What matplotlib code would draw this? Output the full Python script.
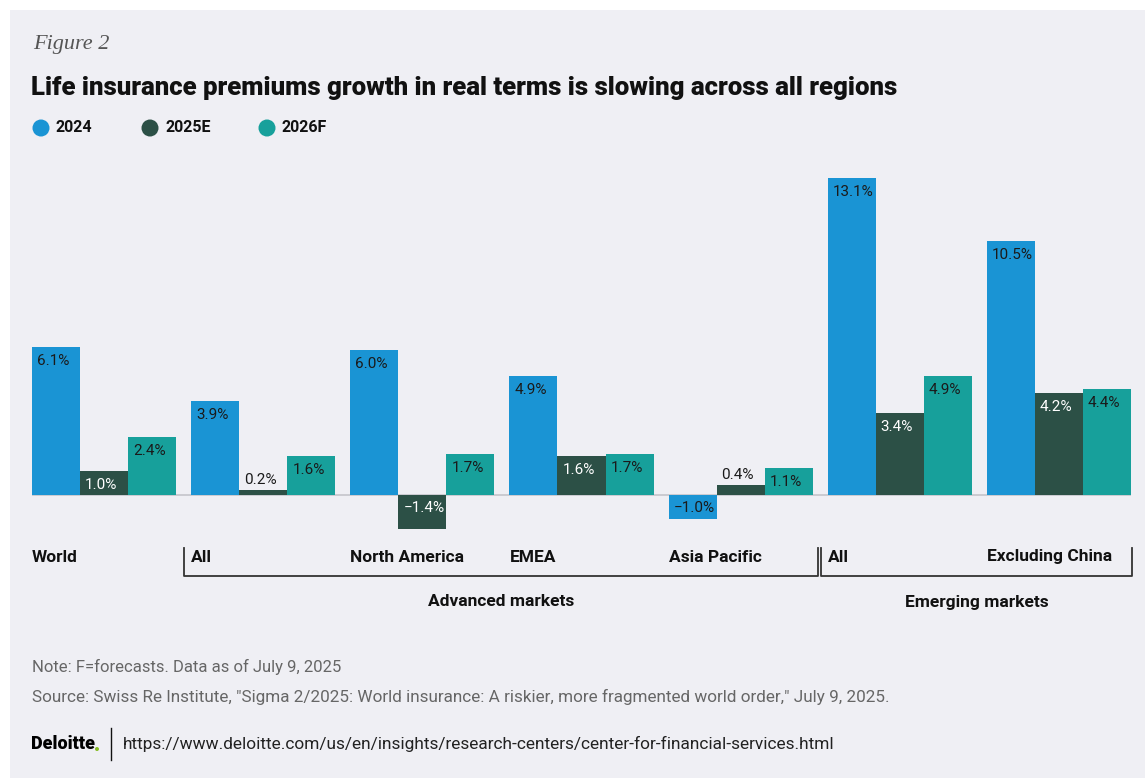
import matplotlib
matplotlib.use("Agg")
import matplotlib.pyplot as plt
from matplotlib.patches import Rectangle, Ellipse
from matplotlib.lines import Line2D
import matplotlib.transforms as mtransforms

# ---------------- data ----------------
categories = ["World", "All", "North America", "EMEA", "Asia Pacific", "All", "Excluding China"]
series_names = ["2024", "2025E", "2026F"]
v2024 = [6.1, 3.9, 6.0, 4.9, -1.0, 13.1, 10.5]
v2025e = [1.0, 0.2, -1.4, 1.6, 0.4, 3.4, 4.2]
v2026f = [2.4, 1.6, 1.7, 1.7, 1.1, 4.9, 4.4]
group_names = ["Advanced markets", "Emerging markets"]
group_members = [[1, 2, 3, 4], [5, 6]]

title = "Life insurance premiums growth in real terms is slowing across all regions"
figure_label = "Figure 2"
note = "Note: F=forecasts. Data as of July 9, 2025"
source = ('Source: Swiss Re Institute, "Sigma 2/2025: World insurance: A riskier, more '
          'fragmented world order," July 9, 2025.')
url = "https://www.deloitte.com/us/en/insights/research-centers/center-for-financial-services.html"

# ---------------- style ----------------
W, H = 1145, 778
BG = "#EFEFF4"
colors = ["#1A94D4", "#2C5046", "#17A09B"]
text_on = ["#1a1a1a", "#ffffff", "#1a1a1a"]
FONT = "Roboto"

def fx(px):
    return px / W

def fy(py):
    return 1 - py / H

fig = plt.figure(figsize=(W / 100, H / 100), dpi=100)
fig.patch.set_facecolor("white")
fig.patches.append(Rectangle((fx(10), 0), 1 - fx(10), fy(10), transform=fig.transFigure,
                             facecolor=BG, edgecolor="none", zorder=-5))

# axes: pixel box
ax_left, ax_right, ax_top, ax_bot = 32, 1131, 160, 540
ax = fig.add_axes([fx(ax_left), fy(ax_bot), fx(ax_right - ax_left), (ax_bot - ax_top) / H])
ax.set_zorder(2)
ax.set_facecolor("none")
bw = 0.302
half = 1.5 * bw
ax.set_xlim(-half, len(categories) - 1 + half)
ppu = 24.2  # pixels per percent
base_y = 495
ax.set_ylim((base_y - ax_bot) / ppu, (base_y - ax_top) / ppu)
ax.axis("off")

ax.axhline(0, color="#C8C8CE", lw=1.3, zorder=1)

series = [v2024, v2025e, v2026f]
px_pt = 0.72
LFS = 11
for j, vals in enumerate(series):
    xs = [i + (j - 1) * bw for i in range(len(categories))]
    ax.bar(xs, vals, width=bw, color=colors[j], zorder=2, linewidth=0)
    for x, v in zip(xs, vals):
        xl = x - bw / 2
        lab = f"{v:.1f}%".replace("-", "\u2212")
        if v >= 0.8:
            ax.annotate(lab, (xl, v), xytext=(5 * px_pt, -7 * px_pt), textcoords="offset points",
                        ha="left", va="top", fontsize=LFS, family=FONT, color=text_on[j], zorder=3)
        elif v < 0:
            ax.annotate(lab, (xl, 0), xytext=(5 * px_pt, -6 * px_pt), textcoords="offset points",
                        ha="left", va="top", fontsize=LFS, family=FONT, color=text_on[j], zorder=3)
        else:
            ax.annotate(lab, (xl, v), xytext=(5 * px_pt, 3 * px_pt), textcoords="offset points",
                        ha="left", va="bottom", fontsize=LFS, family=FONT, color="#1a1a1a", zorder=3)

# category labels
blend = mtransforms.blended_transform_factory(ax.transData, fig.transFigure)
for i, c in enumerate(categories):
    ax.text(i - half, fy(557), c, transform=blend, ha="left", va="center", clip_on=False,
            fontsize=12.5, fontweight="bold", family=FONT, color="#111111")

# brackets
def data_to_px(x):
    return ax.transData.transform((x, 0))[0]

for gname, members in zip(group_names, group_members):
    x0 = data_to_px(members[0] - half) - 7
    x1 = data_to_px(members[-1] + half) + 5
    if members[-1] == len(categories) - 1:
        x1 = data_to_px(members[-1] + half) + 1
    fig.lines.append(Line2D([fx(x0), fx(x0), fx(x1), fx(x1)], [fy(548), fy(576), fy(576), fy(548)],
                            transform=fig.transFigure, color="#333333", lw=1.3))
    fig.text(fx((x0 + x1) / 2), fy(602), gname, ha="center", va="center",
             fontsize=12.5, fontweight="bold", family=FONT, color="#111111")

# header
fig.text(fx(33), fy(45), figure_label, ha="left", va="center", fontsize=16,
         family="Liberation Serif", style="italic", color="#555555")
fig.text(fx(31), fy(88), title, ha="left", va="center", fontsize=18.5,
         fontweight="heavy", family=FONT, color="#111111")

# legend
leg_dot_x = [41, 150, 267]
for name, col, dx in zip(series_names, colors, leg_dot_x):
    fig.patches.append(Ellipse((fx(dx), fy(128)), 17 / W, 17 / H, transform=fig.transFigure,
                               facecolor=col, edgecolor="none"))
    fig.text(fx(dx + 15), fy(128), name, ha="left", va="center", fontsize=11.5,
             fontweight="bold", family=FONT, color="#111111")

# footer
fig.text(fx(32), fy(667), note, ha="left", va="center", fontsize=12, family=FONT, color="#666666")
fig.text(fx(32), fy(697), source, ha="left", va="center", fontsize=12.3, family=FONT, color="#666666")
fig.text(fx(31), fy(744), "Deloitte", ha="left", va="center", fontsize=13,
         fontweight="heavy", family=FONT, color="#000000")
fig.patches.append(Ellipse((fx(97), fy(749)), 4 / W, 4 / H, transform=fig.transFigure,
                           facecolor="#86BC25", edgecolor="none"))
fig.lines.append(Line2D([fx(111), fx(111)], [fy(728), fy(760)], transform=fig.transFigure,
                        color="#111111", lw=1.0))
fig.text(fx(123), fy(744), url, ha="left", va="center", fontsize=12.4, family=FONT, color="#222222")

fig.savefig("out.png", dpi=100, facecolor=fig.get_facecolor())
